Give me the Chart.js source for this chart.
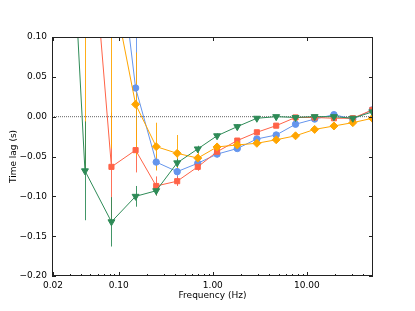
<!DOCTYPE html>
<html>
<head>
<meta charset="utf-8">
<script src="https://cdn.jsdelivr.net/npm/chart.js@4"></script>
<style>
  html, body { margin: 0; padding: 0; background: #fff; }
  #wrap { width: 415px; height: 311px; }
</style>
</head>
<body>
<div id="wrap"><canvas id="lagChart" width="415" height="311"></canvas></div>
<script>
// frequencies (Hz) shared by all four series
const freqs = [0.027, 0.0437, 0.0836, 0.151, 0.250, 0.418, 0.692, 1.11, 1.82, 2.94, 4.72, 7.58, 12.1, 19.4, 30.8, 49.7];

const lagBlue   = [null, null, 0.29, 0.036, -0.057, -0.069, -0.0585, -0.047, -0.040, -0.028, -0.023, -0.0095, -0.003, 0.0025, -0.003, 0.0085];
const errBlue   = [null, null, 0.15, 0.08, 0.01, 0.017, 0.006, 0.004, 0.003, 0.003, 0.002, 0.002, 0.002, 0.002, 0.002, 0.002];

const lagRed    = [null, 0.34, -0.063, -0.042, -0.087, -0.081, -0.063, -0.044, -0.030, -0.0196, -0.0113, -0.001, -0.001, -0.002, -0.002, 0.0085];
const errRed    = [null, 0.15, 0.068, 0.028, 0.012, 0.006, 0.005, 0.004, 0.003, 0.003, 0.002, 0.002, 0.002, 0.002, 0.002, 0.002];

const lagOrange = [null, 0.30, 0.17, 0.0155, -0.0376, -0.046, -0.052, -0.038, -0.0355, -0.0334, -0.029, -0.024, -0.016, -0.0117, -0.0075, -0.002];
const errOrange = [null, 0.367, 0.21, 0.065, 0.03, 0.023, 0.008, 0.005, 0.004, 0.003, 0.003, 0.002, 0.002, 0.002, 0.002, 0.002];

const lagGreen  = [0.40, -0.068, -0.132, -0.100, -0.093, -0.058, -0.0405, -0.024, -0.0125, -0.002, 0.0, -0.001, 0.0, 0.0, -0.002, 0.006];
const errGreen  = [0.3, 0.062, 0.031, 0.013, 0.006, 0.005, 0.004, 0.003, 0.003, 0.002, 0.002, 0.002, 0.002, 0.002, 0.002, 0.002];

const xMajor = [0.02, 0.1, 1, 10];
const xMinor = [0.03, 0.04, 0.05, 0.06, 0.07, 0.08, 0.09,
                0.2, 0.3, 0.4, 0.5, 0.6, 0.7, 0.8, 0.9,
                2, 3, 4, 5, 6, 7, 8, 9, 20, 30, 40];
const xMin = 0.0195, xMax = 50.5;
const yMin = -0.20, yMax = 0.10;

function toPoints(lags, errs) {
    const pts = [];
    for (let i = 0; i < freqs.length; i++) {
        if (lags[i] === null) continue;
        pts.push({ x: freqs[i], y: lags[i], err: errs[i] });
    }
    return pts;
}

function series(label, lags, errs, color, style, radius, order, rot) {
    return {
        label: label,
        data: toPoints(lags, errs),
        borderColor: color,
        backgroundColor: color,
        borderWidth: 1,
        pointStyle: style,
        pointRadius: radius,
        pointRotation: rot || 0,
        pointBorderWidth: 1,
        errColor: color,
        order: order
    };
}

// vertical error bars, drawn under the lines and markers
const errorBars = {
    id: 'errorBars',
    beforeDatasetsDraw(chart) {
        const { ctx, chartArea, scales } = chart;
        ctx.save();
        ctx.beginPath();
        ctx.rect(chartArea.left, chartArea.top, chartArea.right - chartArea.left, chartArea.bottom - chartArea.top);
        ctx.clip();
        ctx.lineWidth = 1;
        ctx.globalAlpha = 0.9;
        chart.data.datasets.forEach(ds => {
            if (!ds.errColor) return;
            ctx.strokeStyle = ds.errColor;
            ds.data.forEach(p => {
                const px = Math.round(scales.x.getPixelForValue(p.x)) + 0.5;
                const y1 = scales.y.getPixelForValue(p.y - p.err);
                const y2 = scales.y.getPixelForValue(p.y + p.err);
                ctx.beginPath();
                ctx.moveTo(px, y1);
                ctx.lineTo(px, y2);
                ctx.stroke();
            });
        });
        ctx.restore();
    }
};

// matplotlib style frame with inward ticks
const frame = {
    id: 'frame',
    afterDraw(chart) {
        const { ctx, chartArea: a, scales } = chart;
        ctx.save();
        ctx.strokeStyle = '#222';
        ctx.lineWidth = 1;
        ctx.strokeRect(a.left + 0.5, a.top + 0.5, a.right - a.left - 1, a.bottom - a.top - 1);
        ctx.beginPath();
        xMajor.forEach(v => {
            const px = Math.round(scales.x.getPixelForValue(v)) + 0.5;
            ctx.moveTo(px, a.bottom); ctx.lineTo(px, a.bottom - 4);
            ctx.moveTo(px, a.top); ctx.lineTo(px, a.top + 4);
        });
        xMinor.forEach(v => {
            const px = Math.round(scales.x.getPixelForValue(v)) + 0.5;
            ctx.moveTo(px, a.bottom); ctx.lineTo(px, a.bottom - 2);
        });
        scales.y.ticks.forEach(t => {
            const py = Math.round(scales.y.getPixelForValue(t.value)) + 0.5;
            ctx.moveTo(a.left, py); ctx.lineTo(a.left + 4, py);
            ctx.moveTo(a.right, py); ctx.lineTo(a.right - 4, py);
        });
        ctx.stroke();
        ctx.restore();
    }
};

const font = { family: 'DejaVu Sans', size: 9 };

new Chart(document.getElementById('lagChart'), {
    type: 'line',
    data: {
        datasets: [
            {
                label: 'zero',
                data: [{ x: xMin, y: 0 }, { x: xMax, y: 0 }],
                borderColor: '#666',
                borderWidth: 1,
                borderDash: [1, 1],
                pointRadius: 0,
                order: 9
            },
            series('blue', lagBlue, errBlue, '#6495ED', 'circle', 3.2, 4),
            series('red', lagRed, errRed, '#FF6347', 'rect', 3.6, 3),
            series('orange', lagOrange, errOrange, '#FFA500', 'rectRot', 4, 2),
            series('green', lagGreen, errGreen, '#2E8B57', 'triangle', 4, 1, 180)
        ]
    },
    options: {
        responsive: false,
        animation: false,
        layout: { padding: { top: 37, right: 42, left: 0, bottom: 0 } },
        plugins: {
            legend: { display: false },
            tooltip: { enabled: false }
        },
        scales: {
            x: {
                type: 'logarithmic',
                min: xMin,
                max: xMax,
                afterBuildTicks: function(scale) {
                    scale.ticks = xMajor.map(v => ({ value: v }));
                },
                afterFit: function(scale) { scale.height = 35; },
                ticks: {
                    autoSkip: false,
                    maxRotation: 0,
                    padding: 4,
                    color: '#000',
                    font: font,
                    callback: function(value) {
                        return Number(value).toFixed(2);
                    }
                },
                grid: { display: false, drawTicks: false },
                border: { display: false },
                title: {
                    display: true,
                    text: 'Frequency (Hz)',
                    color: '#000',
                    font: font,
                    padding: { top: 0, bottom: 10 }
                }
            },
            y: {
                min: yMin,
                max: yMax,
                afterFit: function(scale) { scale.width = 52; },
                ticks: {
                    stepSize: 0.05,
                    padding: 5,
                    color: '#000',
                    font: font,
                    callback: function(value) {
                        if (Math.abs(value) < 1e-9) return '0.00';
                        return value.toFixed(2).replace('-', '\u2212');
                    }
                },
                grid: { display: false, drawTicks: false },
                border: { display: false },
                title: {
                    display: true,
                    text: 'Time lag (s)',
                    color: '#000',
                    font: font,
                    padding: { top: 8, bottom: 0 }
                }
            }
        }
    },
    plugins: [errorBars, frame]
});
</script>
</body>
</html>
